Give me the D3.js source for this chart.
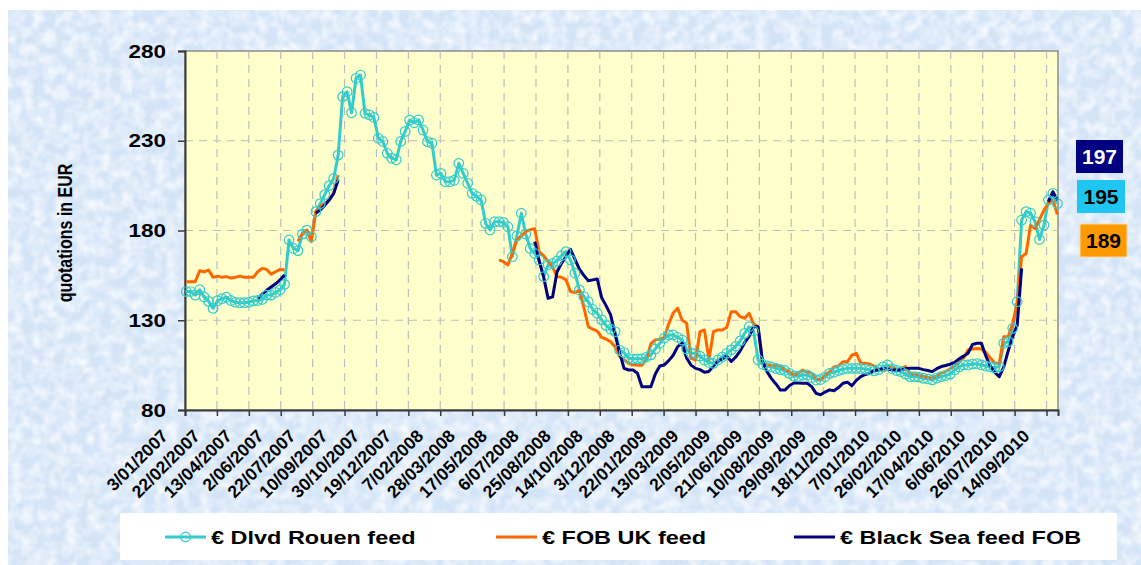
<!DOCTYPE html>
<html>
<head>
<meta charset="utf-8">
<script src="https://cdn.jsdelivr.net/npm/d3@7"></script>
<style>
  body { margin: 0; background: #fff; }
  svg { display: block; }
  text { font-family: "Liberation Sans", Arial, sans-serif; font-weight: bold; }
</style>
</head>
<body>
<svg id="chart" width="1141" height="565"></svg>
<script>
// weekly quotations, EUR/t, first week starting 5 Jan 2007
var startDate = "2007-01-05";

var rouen = [
  146, 146, 144, 147, 143, 140.5, 136.6, 140.9, 142, 142.8,
  141, 140, 139.8, 139.8, 140, 140.8, 141, 141.6, 144, 144,
  145.5, 147, 150, 174.7, 170, 168.8, 178, 180.2, 176.5, 190.5,
  195, 200, 205, 209, 222, 254.5, 257.3, 245.6, 264.8, 266.6,
  245.3, 244.4, 243, 231.4, 229.6, 223, 220.3, 219.4, 229.6, 235.2,
  241.5, 240, 241.6, 236, 229.5, 228.6, 210.9, 211.8, 207.2, 207.2,
  208, 217.4, 211.8, 206.3, 200.7, 199, 197, 184, 180.3, 184.9,
  184.9, 184.5, 182.1, 165.4, 177, 189.6, 178, 170, 167.2, 163.6,
  154.3, 160.8, 161.7, 163, 166, 168.2, 163.6, 156.2, 146.9, 143.2,
  140.3, 136, 133.9, 130.2, 127, 125, 123.7, 113.4, 112, 108.8,
  108.5, 108.5, 108.5, 109.5, 110.7, 114, 117.2, 120, 121.8, 121.8,
  120.5, 119, 114, 111.6, 111.6, 110, 107.9, 106.5, 106, 107.9,
  109.5, 111.6, 113.5, 115.5, 118.5, 122.7, 126.4, 124, 108, 105.5,
  104.5, 104, 103.2, 102.5, 102, 100.4, 99, 98.8, 99.5, 99.5,
  98, 96.7, 97, 98.5, 100.4, 101, 102, 102.7, 103.2, 103.2,
  103.2, 103.2, 102.8, 102.3, 101.8, 102.5, 104, 105.1, 103, 102,
  101.4, 100, 98.6, 98.6, 98.3, 97.7, 97.3, 96.8, 97.8, 98.6,
  99.2, 100, 102.3, 104, 105.1, 105.1, 105.6, 105.8, 105.1, 104.5,
  104, 103.5, 104.2, 117.2, 118.1, 125.5, 140.3, 185.8, 190.5, 189.6,
  184.9, 175, 183, 197, 200.7, 195
];

var fobUk = [
  151.5, 151.5, 151.5, 157.6, 157, 158, 153.9, 154.6, 153.9, 154.3,
  153.5, 154, 154.6, 153.9, 153.9, 153.9, 157, 158.9, 158.3, 155.7,
  157, 158.3, 158, null, null, 174, 178.4, 180.2, 173.8, 190.5,
  193.3, 195.2, 197, 200.7, 210.9, null, null, null, null, null,
  null, null, null, null, null, null, null, null, null, null,
  null, null, null, null, null, null, null, null, null, null,
  null, null, null, null, null, null, null, null, null, null,
  163.6, 162.6, 160.8, 167.3, 174.7, 177, 179.3, 180.5, 181, 168,
  166, 162.6, 159.8, 154.3, 154, 152.5, 146, 145.5, 146.5, 137.2,
  126.4, 125, 124, 120.5, 119.5, 118, 115.3, 110, 108, 106,
  105.2, 105, 105, 108, 117, 119, 119.5, 120.5, 128, 134,
  136.7, 130, 128.5, 108.8, 107.9, 123.6, 124.6, 107.9, 123.6, 124.6,
  124.6, 126, 134.8, 134.8, 132, 131.1, 133.9, 128, 126.4, 106.5,
  105.1, 105, 105, 104.2, 102.5, 101.4, 99.5, 100.5, 102.3, 101,
  100.4, 97.5, 96.7, 99.5, 101.4, 104, 104.5, 106.9, 106.9, 110.6,
  111.6, 106, 106, 105.5, 104.5, 102.5, 102.3, 102.5, 104.2, 102.3,
  103, 104.2, 100.4, 99.8, 99.5, 98.8, 98.2, 97.7, 99, 100.5,
  101.4, 103, 104.5, 106.5, 109, 113.4, 114, 114.3, 114, 112,
  109, 106, 106, 120.8, 120.8, 128.3, 139.4, 165.4, 167.2, 183,
  181, 186, 191.4, 195.2, 197, 189
];

var blackSea = [
  null, null, null, null, null, null, null, null, null, null,
  null, null, null, null, null, null, 142.2, 144.5, 146.7, 148.5,
  150.3, 152.5, 155.2, null, null, null, null, null, null, 189.6,
  191.5, 194, 197, 200.7, 208.1, null, null, null, null, null,
  null, null, null, null, null, null, null, null, null, null,
  null, null, null, null, null, null, null, null, null, null,
  null, null, null, null, null, null, null, null, null, null,
  null, null, null, null, null, null, null, null, 173.8, 163,
  154, 142.2, 143, 157, 161.7, 165.5, 169.5, 164, 158.5, 155,
  152, 152.5, 153, 142.5, 138, 133, 122, 112, 103.2, 102.3,
  102.3, 100.5, 93, 92.9, 92.9, 100, 104.5, 105.1, 107.5, 110.5,
  115.3, 117.2, 109, 105, 103.2, 102.5, 101, 101.5, 104.5, 107,
  108.5, 110, 107, 109.5, 113, 117.5, 121, 126.4, 126.4, 106.9,
  101.4, 97.5, 94.5, 91.1, 91.1, 93.5, 95, 95, 94.9, 94.9,
  93, 89.3, 88.5, 90, 91.2, 90.7, 92.5, 94.9, 95.5, 93.5,
  96.5, 98.6, 99.8, 100.5, 102, 102.3, 103.2, 102.8, 102.3, 102.3,
  102.3, 103, 103.2, 103.2, 103.2, 102.5, 102, 101.4, 103, 104.2,
  104.8, 105.5, 106.5, 108.5, 110, 111.6, 116.5, 117.2, 117.2, 110,
  104.5, 101, 98.6, 104, 113, 121, 127, 158.9, null, null,
  null, null, null, 196, 201.6, 197
];

var tickLabels = [
  "3/01/2007", "22/02/2007", "13/04/2007", "2/06/2007", "22/07/2007", "10/09/2007",
  "30/10/2007", "19/12/2007", "7/02/2008", "28/03/2008", "17/05/2008", "6/07/2008",
  "25/08/2008", "14/10/2008", "3/12/2008", "22/01/2009", "13/03/2009", "2/05/2009",
  "21/06/2009", "10/08/2009", "29/09/2009", "18/11/2009", "7/01/2010", "26/02/2010",
  "17/04/2010", "6/06/2010", "26/07/2010", "14/09/2010"
];
var yTicks = [80, 130, 180, 230, 280];
var seriesNames = ["€ Dlvd Rouen feed", "€ FOB UK feed", "€ Black Sea feed FOB"];
var seriesColors = ["#33cccc", "#ff6600", "#000080"];

var margin = {left: 185, right: 1058, top: 51, bottom: 410};
var parseIso = d3.timeParse("%Y-%m-%d"),
    parseTick = d3.timeParse("%d/%m/%Y");
var t0 = parseIso(startDate);
var tickDates = tickLabels.map(function(s) { return parseTick(s); });

var x = d3.scaleTime()
    .domain([parseTick("3/01/2007"), parseTick("2/10/2010")])
    .range([margin.left, margin.right]);
var y = d3.scaleLinear().domain([80, 280]).range([margin.bottom, margin.top]);

var svg = d3.select("#chart");
var defs = svg.append("defs");

// mottled light blue backdrop
var f = defs.append("filter").attr("id", "mottle").attr("x", 0).attr("y", 0).attr("width", 1).attr("height", 1);
f.append("feTurbulence").attr("type", "fractalNoise").attr("baseFrequency", 0.09).attr("numOctaves", 2).attr("seed", 4);
f.append("feColorMatrix").attr("type", "matrix")
  .attr("values", "0 0 0 0 1  0 0 0 0 1  0 0 0 0 1  1.8 0 0 0 -0.6");

svg.append("rect").attr("x", 8).attr("y", 10).attr("width", 1133).attr("height", 555).attr("fill", "#d3e4f7");
svg.append("rect").attr("x", 8).attr("y", 10).attr("width", 1133).attr("height", 555)
  .attr("fill", "#fff").attr("filter", "url(#mottle)").attr("opacity", 0.85);

// plot area
svg.append("rect")
  .attr("x", margin.left).attr("y", margin.top)
  .attr("width", margin.right - margin.left).attr("height", margin.bottom - margin.top)
  .attr("fill", "#ffffcc").attr("stroke", "#8c8c8c").attr("stroke-width", 1.5);

var grid = svg.append("g").attr("stroke", "#bdbdbd").attr("stroke-width", 1.2).attr("stroke-dasharray", "8,6");
grid.selectAll(".hg").data(yTicks.slice(1, -1)).enter().append("line")
  .attr("x1", margin.left).attr("x2", margin.right)
  .attr("y1", function(d) { return y(d); }).attr("y2", function(d) { return y(d); });
grid.selectAll(".vg").data(tickDates.slice(1)).enter().append("line")
  .attr("x1", function(d) { return x(d); }).attr("x2", function(d) { return x(d); })
  .attr("y1", margin.top).attr("y2", margin.bottom);

// axes
var yAxis = svg.append("g").attr("transform", "translate(" + margin.left + ",0)")
  .call(d3.axisLeft(y).tickValues(yTicks).tickSize(7).tickFormat(""));
var xAxis = svg.append("g").attr("transform", "translate(0," + margin.bottom + ")")
  .call(d3.axisBottom(x).tickValues(tickDates).tickSize(6).tickFormat(""));
[yAxis, xAxis].forEach(function(a) {
  a.selectAll("path").attr("stroke", "#3a3a3a").attr("stroke-width", 2);
  a.selectAll("line").attr("stroke", "#3a3a3a").attr("stroke-width", 1.5);
});

svg.append("g").selectAll("text").data(yTicks).enter().append("text")
  .attr("transform", function(d) { return "translate(166," + (y(d) + 6.5) + ") scale(1.25,1)"; })
  .attr("text-anchor", "end").attr("font-size", 18).attr("fill", "#000")
  .text(function(d) { return d; });

svg.append("g").selectAll("text").data(tickDates).enter().append("text")
  .attr("transform", function(d) { return "translate(" + (x(d) - 16) + ",437) rotate(-45)"; })
  .attr("text-anchor", "end").attr("font-size", 17.5).attr("fill", "#000")
  .text(function(d, i) { return tickLabels[i]; });

svg.append("text")
  .attr("transform", "translate(72,233) scale(1.3,1) rotate(-90)")
  .attr("text-anchor", "middle").attr("font-size", 16).attr("fill", "#000")
  .text("quotations in EUR");

// series
function toPoints(values) {
  return values.map(function(v, i) { return {date: d3.timeDay.offset(t0, 7 * i), v: v}; });
}
var series = [rouen, fobUk, blackSea].map(toPoints);
var line = d3.line()
  .defined(function(d) { return d.v != null; })
  .x(function(d) { return x(d.date); })
  .y(function(d) { return y(d.v); });

var lines = svg.append("g").attr("fill", "none").attr("stroke-width", 3)
  .attr("stroke-linejoin", "round").attr("stroke-linecap", "butt");
series.forEach(function(s, k) {
  lines.append("path").datum(s).attr("stroke", seriesColors[k]).attr("d", line);
});

svg.append("g").selectAll("circle").data(series[0]).enter().append("circle")
  .attr("cx", function(d) { return x(d.date); })
  .attr("cy", function(d) { return y(d.v); })
  .attr("r", 4.8).attr("fill", "none").attr("stroke", seriesColors[0]).attr("stroke-width", 1.2);

// last value boxes
var boxes = [
  {val: blackSea[blackSea.length - 1], fill: "#000080", text: "#fff", x: 1076, y: 140, w: 47},
  {val: rouen[rouen.length - 1], fill: "#1fc6f2", text: "#000", x: 1077, y: 180, w: 48},
  {val: fobUk[fobUk.length - 1], fill: "#ff9900", text: "#000", x: 1080, y: 224, w: 47}
];
var bx = svg.append("g").selectAll("g").data(boxes).enter().append("g");
bx.append("rect")
  .attr("x", function(d) { return d.x; }).attr("y", function(d) { return d.y; })
  .attr("width", function(d) { return d.w; }).attr("height", 33)
  .attr("fill", function(d) { return d.fill; })
  .attr("stroke", function(d, i) { return i === 2 ? "#ffd9a0" : "none"; });
bx.append("text")
  .attr("x", function(d) { return d.x + d.w / 2; }).attr("y", function(d) { return d.y + 24; })
  .attr("text-anchor", "middle").attr("font-size", 21)
  .attr("fill", function(d) { return d.text; })
  .text(function(d) { return d3.format(".0f")(d.val); });

// legend
svg.append("rect").attr("x", 120).attr("y", 513).attr("width", 997).attr("height", 47).attr("fill", "#fff");
var legendX = [165, 496, 794];
var lg = svg.append("g").selectAll("g").data(seriesNames).enter().append("g")
  .attr("transform", function(d, i) { return "translate(" + legendX[i] + ",537)"; });
lg.append("line").attr("x1", 0).attr("x2", 41).attr("y1", 0).attr("y2", 0)
  .attr("stroke", function(d, i) { return seriesColors[i]; }).attr("stroke-width", 3);
lg.filter(function(d, i) { return i === 0; }).append("circle")
  .attr("cx", 20.5).attr("cy", 0).attr("r", 4.8)
  .attr("fill", "none").attr("stroke", seriesColors[0]).attr("stroke-width", 1.2);
lg.append("text")
  .attr("transform", "translate(46,6.5) scale(1.34,1)")
  .attr("font-size", 17.5).attr("fill", "#000")
  .text(function(d) { return d; });
</script>
</body>
</html>
